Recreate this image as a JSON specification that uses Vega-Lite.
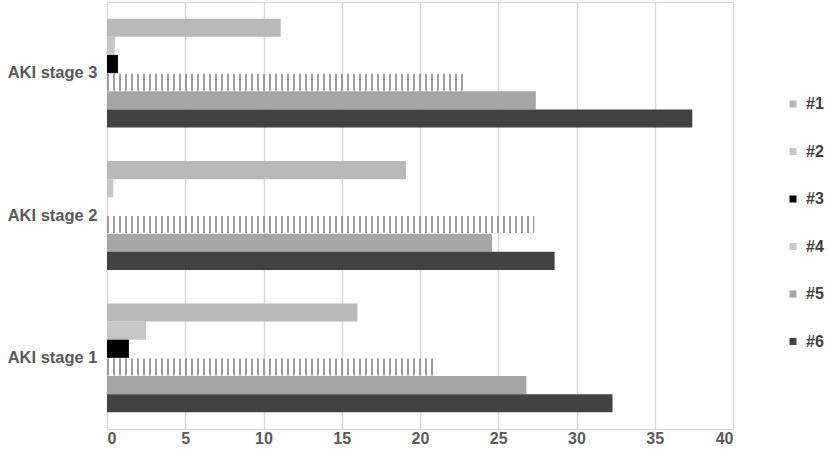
{
  "$schema": "https://vega.github.io/schema/vega-lite/v6.json",
  "width": 626,
  "height": 427,
  "autosize": {"type": "none"},
  "padding": {"left": 107, "top": 2, "right": 96, "bottom": 28},
  "background": "white",
  "data": {
    "values": [
      {"stage": "AKI stage 3", "series": "#1", "value": 11.1},
      {"stage": "AKI stage 3", "series": "#2", "value": 0.5},
      {"stage": "AKI stage 3", "series": "#3", "value": 0.7},
      {"stage": "AKI stage 3", "series": "#4", "value": 22.8},
      {"stage": "AKI stage 3", "series": "#5", "value": 27.4},
      {"stage": "AKI stage 3", "series": "#6", "value": 37.4},
      {"stage": "AKI stage 2", "series": "#1", "value": 19.1},
      {"stage": "AKI stage 2", "series": "#2", "value": 0.4},
      {"stage": "AKI stage 2", "series": "#3", "value": 0},
      {"stage": "AKI stage 2", "series": "#4", "value": 27.3},
      {"stage": "AKI stage 2", "series": "#5", "value": 24.6},
      {"stage": "AKI stage 2", "series": "#6", "value": 28.6},
      {"stage": "AKI stage 1", "series": "#1", "value": 16.0},
      {"stage": "AKI stage 1", "series": "#2", "value": 2.5},
      {"stage": "AKI stage 1", "series": "#3", "value": 1.4},
      {"stage": "AKI stage 1", "series": "#4", "value": 20.9},
      {"stage": "AKI stage 1", "series": "#5", "value": 26.8},
      {"stage": "AKI stage 1", "series": "#6", "value": 32.3}
    ]
  },
  "encoding": {
    "y": {
      "field": "stage",
      "type": "nominal",
      "sort": ["AKI stage 3", "AKI stage 2", "AKI stage 1"],
      "title": null,
      "scale": {"paddingInner": 0.235, "paddingOuter": 0.1175},
      "axis": {
        "ticks": false,
        "domain": false,
        "grid": false,
        "labelPadding": 10,
        "labelFontSize": 16.5,
        "labelFontWeight": "bold",
        "labelColor": "#595959",
        "labelFont": "Liberation Sans"
      }
    },
    "yOffset": {
      "field": "series",
      "type": "nominal",
      "sort": ["#1", "#2", "#3", "#4", "#5", "#6"],
      "scale": {"domain": ["#1", "#2", "#3", "#4", "#5", "#6"], "paddingInner": 0, "paddingOuter": 0}
    },
    "x": {
      "field": "value",
      "type": "quantitative",
      "title": null,
      "scale": {"domain": [0, 40], "nice": false},
      "axis": {
        "values": [0, 5, 10, 15, 20, 25, 30, 35, 40],
        "ticks": false,
        "domain": false,
        "grid": true,
        "gridColor": "#d9d9d9",
        "gridWidth": 1.5,
        "labelPadding": 1,
        "labelFontSize": 16,
        "labelFontWeight": "bold",
        "labelColor": "#595959",
        "labelFont": "Liberation Sans"
      }
    }
  },
  "layer": [
    {
      "mark": {"type": "bar", "cornerRadius": 0},
      "encoding": {
        "color": {
          "field": "series",
          "type": "nominal",
          "title": null,
          "scale": {
            "domain": ["#1", "#2", "#3", "#4", "#5", "#6"],
            "range": ["#b8b8b8", "#c6c6c6", "#000000", "#cccccc", "#a6a6a6", "#424242"]
          },
          "legend": {
            "orient": "none",
            "legendX": 678,
            "legendY": 94,
            "symbolType": "square",
            "symbolSize": 49,
            "symbolStrokeWidth": 0,
            "labelFontSize": 16,
            "labelFontWeight": "bold",
            "labelColor": "#404040",
            "labelFont": "Liberation Sans",
            "rowPadding": 31.5,
            "labelOffset": 5
          }
        },
        "opacity": {
          "condition": {"test": "datum.series === '#4'", "value": 0},
          "value": 1
        }
      }
    },
    {
      "transform": [{"filter": "datum.series === '#4'"}],
      "mark": {"type": "rule", "color": "#9c9c9c", "strokeWidth": 17, "strokeDash": [2, 4]},
      "encoding": {
        "x": {"datum": 0, "type": "quantitative"},
        "x2": {"field": "value"}
      }
    }
  ]
}
